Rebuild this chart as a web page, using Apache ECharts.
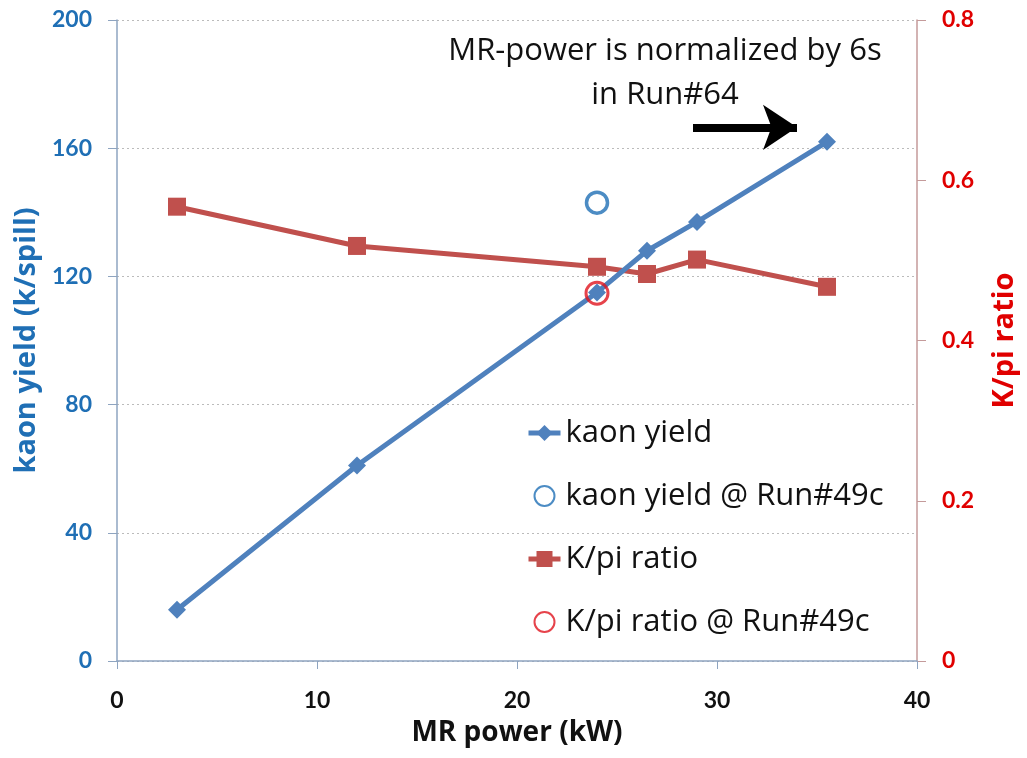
<!DOCTYPE html>
<html>
<head>
<meta charset="utf-8">
<script src="https://cdn.jsdelivr.net/npm/echarts@6/dist/echarts.min.js"></script>
<style>
body{margin:0;padding:0;background:#fff;}
#main{width:1027px;height:758px;}
</style>
</head>
<body>
<div id="main"></div>
<script>
// MR power (kW)
const power = [3, 12, 24, 26.5, 29, 35.5]
const kaonYield = [16, 61, 115, 128, 137, 162]
const kpiRatio = [0.567, 0.518, 0.492, 0.483, 0.501, 0.467]
// Run#49c points
const run49Power = [24]
const run49Yield = [143]
const run49Ratio = [0.459]
const xTicks = [0, 40, 10]
const yTicks = [0, 200, 40]
const rTicks = [0, 0.8, 0.2]

const font = '"Open Sans", Lato, sans-serif'
const numFont = 'Lato, "Open Sans", sans-serif'
const blue = '#4F81BD'
const red = '#C0504D'

let chart = echarts.init(document.getElementById('main'))
chart.setOption({
  animation: false,
  grid: { left: 117, right: 106, top: 20, bottom: 97 },
  legend: {
    orient: 'vertical',
    left: 521,
    top: 411,
    itemGap: 29,
    itemWidth: 32,
    itemHeight: 20,
    lineStyle: { width: 5 },
    textStyle: { fontFamily: font, fontSize: 31, lineHeight: 34, color: '#111' },
    data: ['kaon yield', 'kaon yield @ Run#49c', 'K/pi ratio', 'K/pi ratio @ Run#49c']
  },
  xAxis: {
    type: 'value',
    min: xTicks[0], max: xTicks[1], interval: xTicks[2],
    name: 'MR power (kW)',
    nameLocation: 'middle',
    nameGap: 58,
    nameTextStyle: { fontFamily: font, fontSize: 28, fontWeight: 'bold', color: '#111' },
    axisLine: { lineStyle: { color: '#8EA4C0', width: 1.5 } },
    axisTick: { show: true, length: 8, lineStyle: { color: '#8EA4C0' } },
    axisLabel: { fontFamily: numFont, fontSize: 23, fontWeight: 'bold', color: '#111', margin: 28 },
    splitLine: { show: false }
  },
  yAxis: [{
    type: 'value',
    min: yTicks[0], max: yTicks[1], interval: yTicks[2],
    name: 'kaon yield (k/spill)',
    nameLocation: 'middle',
    nameGap: 73,
    nameTextStyle: { fontFamily: font, fontSize: 29, fontWeight: 'bold', color: '#1F6FB5' },
    axisLine: { show: true, lineStyle: { color: '#8EA4C0', width: 1.5 } },
    axisTick: { show: true, length: 9, lineStyle: { color: '#8EA4C0' } },
    axisLabel: { fontFamily: numFont, fontSize: 23, fontWeight: 'bold', color: '#1F6FB5', margin: 25 },
    splitLine: { show: true, lineStyle: { color: '#BBBBBB', type: [2, 3], width: 1.2 } }
  }, {
    type: 'value',
    min: rTicks[0], max: rTicks[1], interval: rTicks[2],
    name: 'K/pi ratio',
    nameLocation: 'middle',
    nameGap: 73,
    nameRotate: 90,
    nameTextStyle: { fontFamily: font, fontSize: 29, fontWeight: 'bold', color: '#E00000' },
    axisLine: { show: true, lineStyle: { color: '#C49A9A', width: 1.5 } },
    axisTick: { show: true, length: 9, lineStyle: { color: '#C49A9A' } },
    axisLabel: { fontFamily: numFont, fontSize: 23, fontWeight: 'bold', color: '#E00000', margin: 25 },
    splitLine: { show: false }
  }],
  graphic: [{
    type: 'text',
    x: 665, y: 73,
    style: {
      text: 'MR-power is normalized by 6s\nin Run#64',
      align: 'center',
      verticalAlign: 'middle',
      fontFamily: font, fontSize: 31, lineHeight: 44, fill: '#111'
    }
  }],
  series: [{
    name: 'kaon yield',
    type: 'line',
    data: power.map((p, i) => [p, kaonYield[i]]),
    symbol: 'diamond',
    symbolSize: 18,
    lineStyle: { color: blue, width: 5 },
    itemStyle: { color: blue },
    z: 3,
    markLine: {
      silent: true,
      symbol: ['none', 'arrow'],
      symbolSize: [34, 34],
      label: { show: false },
      lineStyle: { color: '#000', width: 8, type: 'solid' },
      data: [[{ coord: [28.8, 166.5] }, { coord: [34, 166.5] }]]
    }
  }, {
    name: 'kaon yield @ Run#49c',
    type: 'scatter',
    data: run49Power.map((p, i) => [p, run49Yield[i]]),
    symbol: 'circle',
    symbolSize: 21,
    itemStyle: { color: 'rgba(255,255,255,0)', borderColor: '#1F6FB5', borderWidth: 3.5 }
  }, {
    name: 'K/pi ratio',
    type: 'line',
    yAxisIndex: 1,
    data: power.map((p, i) => [p, kpiRatio[i]]),
    symbol: 'rect',
    symbolSize: 18,
    lineStyle: { color: red, width: 5 },
    itemStyle: { color: red },
    z: 2
  }, {
    name: 'K/pi ratio @ Run#49c',
    type: 'scatter',
    yAxisIndex: 1,
    data: run49Power.map((p, i) => [p, run49Ratio[i]]),
    symbol: 'circle',
    symbolSize: 22,
    itemStyle: { color: 'rgba(255,255,255,0)', borderColor: '#E0141E', borderWidth: 3 },
    z: 4
  }]
})
</script>
</body>
</html>
